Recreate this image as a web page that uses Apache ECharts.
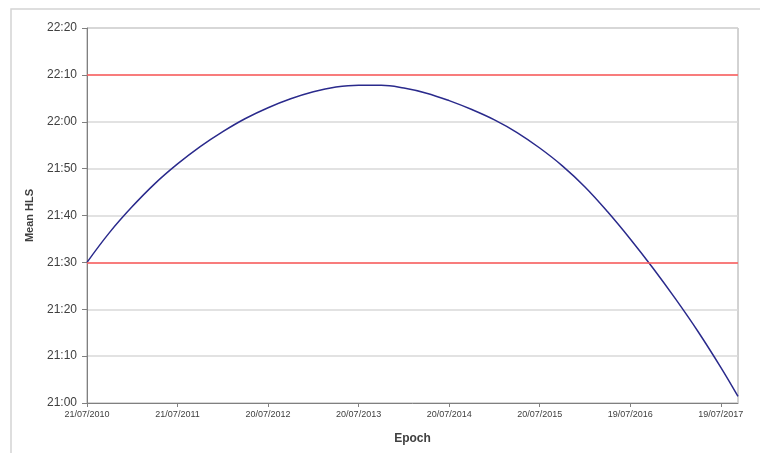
<!DOCTYPE html>
<html>
<head>
<meta charset="utf-8">
<script src="https://cdn.jsdelivr.net/npm/echarts@6/dist/echarts.min.js"></script>
<style>html,body{margin:0;padding:0;background:#fff;}#c{width:760px;height:453px;}</style>
</head>
<body>
<div id="c"></div>
<script>
// Years elapsed since epoch 21/07/2010
var epochYears = [0, 0.25, 0.5, 0.75, 1.0, 1.25, 1.5, 1.75, 2.0, 2.25, 2.5, 2.75, 3.0, 3.25, 3.5, 3.75, 4.0, 4.25, 4.5, 4.75, 5.0, 5.25, 5.5, 5.75, 6.0, 6.25, 6.5, 6.75, 7.0, 7.19];
// Mean HLS, minutes after 21:00
var meanHLS = [30, 36.4, 41.9, 46.8, 51.0, 54.7, 57.9, 60.7, 63.0, 64.9, 66.4, 67.4, 67.8, 67.8, 67.2, 66.1, 64.5, 62.6, 60.4, 57.7, 54.4, 50.6, 46.1, 40.8, 35.0, 28.8, 22.2, 15.2, 7.6, 1.4];
// Reference limit lines (minutes after 21:00): 21:30 and 22:10
var limits = [30, 70];
// X tick positions (years since epoch) and their labels
var xTickYears = [0, 1, 2, 3, 4, 5, 6, 7];
var xTickLabels = ['21/07/2010', '21/07/2011', '20/07/2012', '20/07/2013', '20/07/2014', '20/07/2015', '19/07/2016', '19/07/2017'];
// Y tick labels (every 10 minutes from 21:00)
var yTickLabels = ['21:00', '21:10', '21:20', '21:30', '21:40', '21:50', '22:00', '22:10', '22:20'];

var chart = echarts.init(document.getElementById('c'), null, {renderer: 'canvas'});
var pts = epochYears.map(function (t, i) { return [t, meanHLS[i]]; });
var font = 'Liberation Sans, Arial, sans-serif';

chart.setOption({
  animation: false,
  backgroundColor: '#ffffff',
  graphic: [{
    type: 'rect',
    shape: {x: 11, y: 9, width: 800, height: 500},
    style: {fill: 'none', stroke: '#d4d4d4', lineWidth: 1.5},
    silent: true,
    z: -10
  }],
  grid: {left: 87, right: 22, top: 28, bottom: 50, show: true, borderColor: '#a6a6a6', borderWidth: 1},
  xAxis: {
    type: 'value',
    min: 0,
    max: 7.19,
    interval: 1,
    name: 'Epoch',
    nameLocation: 'middle',
    nameGap: 30,
    nameTextStyle: {fontFamily: font, fontSize: 12, fontWeight: 'bold', color: '#404040'},
    axisLine: {show: true, onZero: false, lineStyle: {color: '#808080', width: 1}},
    axisTick: {show: true, length: 4, lineStyle: {color: '#808080'}, customValues: xTickYears},
    axisLabel: {
      fontFamily: font, fontSize: 9, color: '#404040', margin: 7,
      customValues: xTickYears,
      formatter: function (v) { var i = xTickYears.indexOf(Math.round(v)); return i >= 0 ? xTickLabels[i] : ''; }
    },
    splitLine: {show: false}
  },
  yAxis: {
    type: 'value',
    min: 0,
    max: 80,
    interval: 10,
    name: 'Mean HLS',
    nameLocation: 'middle',
    nameGap: 52,
    nameRotate: 90,
    nameTextStyle: {fontFamily: font, fontSize: 11, fontWeight: 'bold', color: '#404040'},
    axisLine: {show: true, lineStyle: {color: '#808080', width: 1}},
    axisTick: {show: true, length: 5, inside: false, lineStyle: {color: '#808080'}},
    axisLabel: {
      fontFamily: font, fontSize: 12, color: '#404040', margin: 10,
      formatter: function (v) { return yTickLabels[Math.round(v / 10)] || ''; }
    },
    splitLine: {show: true, lineStyle: {color: '#d9d9d9', width: 1.5}}
  },
  series: [{
    type: 'line',
    data: pts,
    smooth: 0.4,
    showSymbol: false,
    lineStyle: {color: '#2a2a8c', width: 1.5},
    markLine: {
      silent: true,
      symbol: 'none',
      label: {show: false},
      lineStyle: {color: '#ff5a5a', width: 1.5, type: 'solid'},
      data: limits.map(function (v) { return {yAxis: v}; })
    },
    z: 3
  }]
});
</script>
</body>
</html>
